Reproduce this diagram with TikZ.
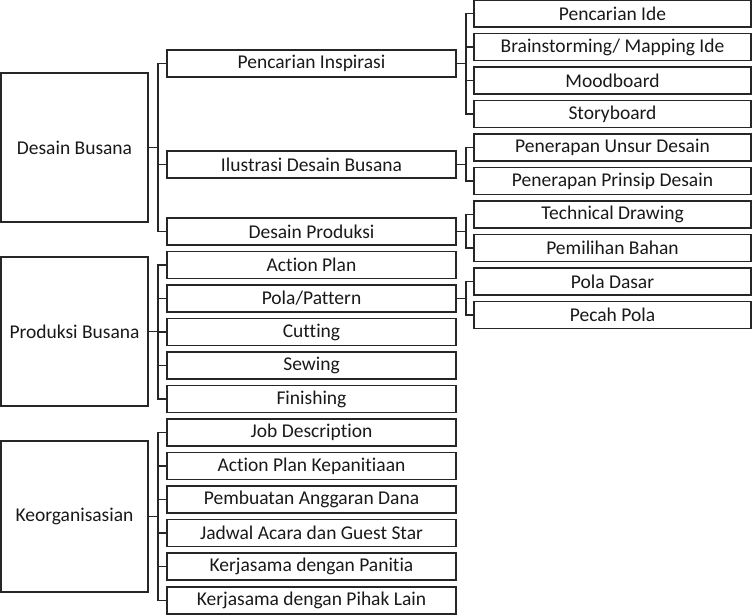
\documentclass[tikz,border=0pt]{standalone}
\usepackage{fontspec}
\setmainfont{Carlito}[Ligatures=NoCommon]
\begin{document}
\begin{tikzpicture}[x=1pt,y=-1pt,
  every node/.style={draw=black!85,line width=1.5pt,inner sep=0pt,font=\fontsize{19.5}{22}\selectfont,text=black!90},
  lbox/.style={minimum width=147pt},
  mbox/.style={minimum width=289pt,minimum height=27pt},
  rbox/.style={minimum width=277pt,minimum height=27pt},
  conn/.style={draw=black!85,line width=1.5pt}]
\useasboundingbox (0,0) rectangle (752,615);
% left
\node[lbox,minimum height=149pt] (db) at (74.5,147.5) {Desain Busana};
\node[lbox,minimum height=149pt] (pb) at (74.5,331.5) {Produksi Busana};
\node[lbox,minimum height=151pt] (ko) at (74.5,516.5) {Keorganisasian};
% middle
\node[mbox] (m1) at (311.5,63.5) {Pencarian Inspirasi};
\node[mbox] (m2) at (311.5,164.5) {Ilustrasi Desain Busana};
\node[mbox] (m3) at (311.5,231.5) {Desain Produksi};
\node[mbox] (m4) at (311.5,265) {Action Plan};
\node[mbox] (m5) at (311.5,298.5) {Pola/Pattern};
\node[mbox] (m6) at (311.5,332) {Cutting};
\node[mbox] (m7) at (311.5,365.5) {Sewing};
\node[mbox] (m8) at (311.5,399) {Finishing};
\node[mbox] (m9) at (311.5,432.5) {Job Description};
\node[mbox] (m10) at (311.5,466) {Action Plan Kepanitiaan};
\node[mbox] (m11) at (311.5,499.5) {Pembuatan Anggaran Dana};
\node[mbox] (m12) at (311.5,533) {Jadwal Acara dan Guest Star};
\node[mbox] (m13) at (311.5,566.5) {Kerjasama dengan Panitia};
\node[mbox] (m14) at (311.5,600.5) {Kerjasama dengan Pihak Lain};
% right
\node[rbox] (r1) at (612.5,13.5) {Pencarian Ide};
\node[rbox] (r2) at (612.5,47) {Brainstorming/ Mapping Ide};
\node[rbox] (r3) at (612.5,80.5) {Moodboard};
\node[rbox] (r4) at (612.5,114) {Storyboard};
\node[rbox] (r5) at (612.5,147.5) {Penerapan Unsur Desain};
\node[rbox] (r6) at (612.5,181) {Penerapan Prinsip Desain};
\node[rbox] (r7) at (612.5,214.5) {Technical Drawing};
\node[rbox] (r8) at (612.5,248) {Pemilihan Bahan};
\node[rbox] (r9) at (612.5,281.5) {Pola Dasar};
\node[rbox] (r10) at (612.5,315) {Pecah Pola};
% connectors
\foreach \c in {m1,m2,m3} \draw[conn] (db.east) -- ++(9,0) |- (\c.west);
\foreach \c in {m4,m5,m6,m7,m8} \draw[conn] (pb.east) -- ++(9,0) |- (\c.west);
\foreach \c in {m9,m10,m11,m12,m13,m14} \draw[conn] (ko.east) -- ++(9,0) |- (\c.west);
\foreach \c in {r1,r2,r3,r4} \draw[conn] (m1.east) -- ++(9,0) |- (\c.west);
\foreach \c in {r5,r6} \draw[conn] (m2.east) -- ++(9,0) |- (\c.west);
\foreach \c in {r7,r8} \draw[conn] (m3.east) -- ++(9,0) |- (\c.west);
\foreach \c in {r9,r10} \draw[conn] (m5.east) -- ++(9,0) |- (\c.west);
\end{tikzpicture}
\end{document}
